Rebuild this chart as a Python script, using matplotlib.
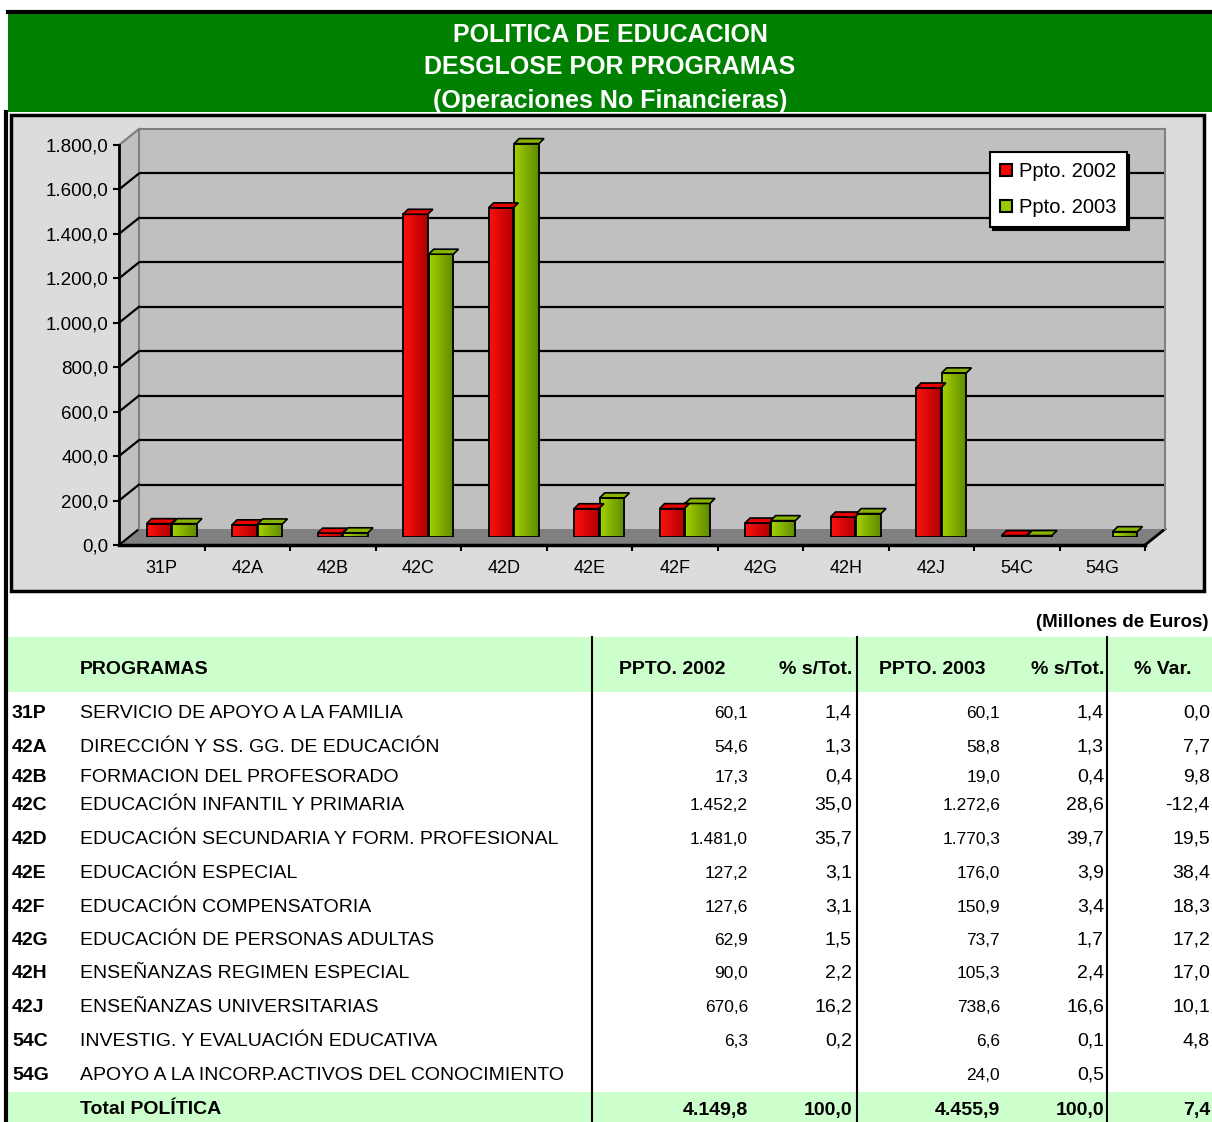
import matplotlib
matplotlib.use('Agg')
import matplotlib.pyplot as plt
from matplotlib.colors import LinearSegmentedColormap
from matplotlib.lines import Line2D
from matplotlib.patches import Polygon, Rectangle
import numpy as np

plt.rcParams['font.family'] = ['Liberation Sans', 'DejaVu Sans']

# data
codes = ['31P', '42A', '42B', '42C', '42D', '42E', '42F', '42G', '42H', '42J', '54C', '54G']
names = [
    'SERVICIO DE APOYO A LA FAMILIA',
    'DIRECCIÓN Y SS. GG. DE EDUCACIÓN',
    'FORMACION DEL PROFESORADO',
    'EDUCACIÓN INFANTIL Y PRIMARIA',
    'EDUCACIÓN SECUNDARIA Y FORM. PROFESIONAL',
    'EDUCACIÓN ESPECIAL',
    'EDUCACIÓN COMPENSATORIA',
    'EDUCACIÓN DE PERSONAS ADULTAS',
    'ENSEÑANZAS REGIMEN ESPECIAL',
    'ENSEÑANZAS UNIVERSITARIAS',
    'INVESTIG. Y EVALUACIÓN EDUCATIVA',
    'APOYO A LA INCORP.ACTIVOS DEL CONOCIMIENTO',
]
ppto_2002 = [60.1, 54.6, 17.3, 1452.2, 1481.0, 127.2, 127.6, 62.9, 90.0, 670.6, 6.3, np.nan]
pct_2002 = [1.4, 1.3, 0.4, 35.0, 35.7, 3.1, 3.1, 1.5, 2.2, 16.2, 0.2, np.nan]
ppto_2003 = [60.1, 58.8, 19.0, 1272.6, 1770.3, 176.0, 150.9, 73.7, 105.3, 738.6, 6.6, 24.0]
pct_2003 = [1.4, 1.3, 0.4, 28.6, 39.7, 3.9, 3.4, 1.7, 2.4, 16.6, 0.1, 0.5]
pct_var = [0.0, 7.7, 9.8, -12.4, 19.5, 38.4, 18.3, 17.2, 17.0, 10.1, 4.8, np.nan]
totals = [4149.8, 100.0, 4455.9, 100.0, 7.4]
series_labels = ['Ppto. 2002', 'Ppto. 2003']
y_ticks = list(range(0, 1801, 200))

W, H = 1212, 1122


def es(v):
    if np.isnan(v):
        return ''
    s = f'{v:,.1f}'
    return s.replace(',', 'X').replace('.', ',').replace('X', '.')


def box(x0, y0, x1, y1):
    # pixel box (top-left origin) -> figure fraction
    return [x0 / W, 1 - y1 / H, (x1 - x0) / W, (y1 - y0) / H]


fig = plt.figure(figsize=(W / 100, H / 100), dpi=100)
bg = fig.add_axes([0, 0, 1, 1], zorder=0)
bg.set_xlim(0, W)
bg.set_ylim(H, 0)
bg.axis('off')

# title banner
bg.add_patch(Rectangle((8, 12), W - 8, 100, facecolor='#008000', edgecolor='none'))
bg.plot([8, W], [12, 12], color='black', lw=3)
for txt, yy in zip(['POLITICA DE EDUCACION', 'DESGLOSE POR PROGRAMAS',
                    '(Operaciones No Financieras)'], [35, 67, 101]):
    bg.text(610, yy, txt, color='white', fontsize=18, fontweight='bold',
            ha='center', va='center')
bg.plot([6, 6], [112, H], color='black', lw=3)

# chart area
bg.add_patch(Rectangle((11, 115), 1193, 476, facecolor='#dcdcdc',
                       edgecolor='black', lw=2.5))
bg.add_patch(Polygon([(119, 545), (1145, 545), (1165, 529), (139, 529)],
                     closed=True, facecolor='#808080', edgecolor='none'))
bg.add_patch(Polygon([(119, 545), (119, 145), (139, 129), (139, 529)],
                     closed=True, facecolor='#c0c0c0', edgecolor='none'))
bg.plot([1145, 1165], [545, 529], color='black', lw=2)
bg.plot([119, 139], [545, 529], color='black', lw=1.5)

# back wall
ax_back = fig.add_axes(box(139, 129, 1165, 529), zorder=1)
ax_back.set_xlim(-0.5, 11.5)
ax_back.set_ylim(0, 1800)
ax_back.set_facecolor('#c0c0c0')
for side in ['top', 'right', 'left']:
    ax_back.spines[side].set_color('#808080')
    ax_back.spines[side].set_linewidth(1.5)
ax_back.spines['bottom'].set_visible(False)
ax_back.set_xticks([])
ax_back.set_yticks([])
for v in y_ticks[1:-1]:
    ax_back.axhline(v, color='black', lw=1.6)

# front axis
ax_front = fig.add_axes(box(119, 145, 1145, 545), zorder=4)
ax_front.set_xlim(-0.5, 11.5)
ax_front.set_ylim(0, 1800)
ax_front.patch.set_alpha(0)
ax_front.spines['top'].set_visible(False)
ax_front.spines['right'].set_visible(False)
ax_front.spines['left'].set_linewidth(2)
ax_front.spines['bottom'].set_linewidth(2.5)
ax_front.set_yticks(y_ticks)
ax_front.set_yticklabels([es(v) for v in y_ticks], fontsize=13.5)
ax_front.tick_params(axis='y', direction='out', length=4.5, width=1.5, pad=3)
x = np.arange(len(codes))
ax_front.set_xticks(x)
ax_front.set_xticklabels(codes, fontsize=13)
ax_front.set_xticks(x + 0.5, minor=True)
ax_front.tick_params(axis='x', which='major', length=0, pad=11)
ax_front.tick_params(axis='x', which='minor', direction='out', length=4.5, width=1.5)

# diagonal tick lines on the left wall
for v in y_ticks[1:]:
    p0 = ax_front.transData.transform((-0.5, v))
    p1 = ax_back.transData.transform((-0.5, v))
    col = '#808080' if v == y_ticks[-1] else 'black'
    fig.add_artist(Line2D([p0[0], p1[0]], [p0[1], p1[1]], transform=None,
                          color=col, lw=1.6, zorder=2))

# bars (middle plane)
ax = fig.add_axes(box(129, 137, 1155, 537), zorder=3)
ax.patch.set_alpha(0)
ax.axis('off')

bw = 0.29
dx_cap = 5 / 85.5
dy_cap = 5 * 1800 / 400
series = [
    (ppto_2002, -0.15, ['#ff1010', '#b00000'], '#e80000'),
    (ppto_2003, 0.15, ['#a4d000', '#5e8a00'], '#88b400'),
]
for vals, off, grad_cols, cap_col in series:
    cmap = LinearSegmentedColormap.from_list('g', grad_cols)
    bars = ax.bar(x + off, vals, width=bw, facecolor='none',
                  edgecolor='black', linewidth=1.3, zorder=4)
    for b, v in zip(bars, vals):
        if np.isnan(v):
            continue
        x0, w = b.get_x(), b.get_width()
        im = ax.imshow(np.linspace(0, 1, 64)[None, :], extent=(x0, x0 + w, 0, v),
                       aspect='auto', cmap=cmap, zorder=3)
        im.set_clip_path(b)
        ax.add_patch(Polygon([(x0, v), (x0 + w, v), (x0 + w + dx_cap, v + dy_cap),
                              (x0 + dx_cap, v + dy_cap)], closed=True,
                             facecolor=cap_col, edgecolor='black', lw=1.2,
                             zorder=5, clip_on=False))
ax.set_xlim(-0.5, 11.5)
ax.set_ylim(0, 1800)

handles = [
    Line2D([], [], linestyle='none', marker='s', markersize=8,
           markerfacecolor=c, markeredgecolor='black', markeredgewidth=1.5)
    for c in ['#ff0000', '#99cc00']
]
leg = ax.legend(handles, series_labels, loc='upper left',
                bbox_to_anchor=(990 / W, 1 - 152 / H), bbox_transform=fig.transFigure,
                borderaxespad=0, fontsize=14.5, frameon=True, fancybox=False,
                shadow={'color': 'black', 'alpha': 1}, handlelength=0.6,
                handletextpad=0.35, labelspacing=0.85, borderpad=0.5)
leg.get_frame().set_edgecolor('black')
leg.get_frame().set_linewidth(1.5)
leg.set_zorder(10)

# table
bg.text(1208, 622, '(Millones de Euros)', fontsize=13.5, fontweight='bold',
        ha='right', va='center')
bg.add_patch(Rectangle((8, 637), W - 8, 55, facecolor='#ccffcc', edgecolor='none'))
bg.add_patch(Rectangle((8, 1092), W - 8, 30, facecolor='#ccffcc', edgecolor='none'))
for xv in [592, 857, 1107]:
    bg.plot([xv, xv], [637, H], color='black', lw=1.5)

hdr = dict(fontsize=14, fontweight='bold', va='center')
bg.text(80, 669, 'PROGRAMAS', ha='left', **hdr)
bg.text(672, 669, 'PPTO. 2002', ha='center', **hdr)
bg.text(852, 669, '% s/Tot.', ha='right', **hdr)
bg.text(932, 669, 'PPTO. 2003', ha='center', **hdr)
bg.text(1104, 669, '% s/Tot.', ha='right', **hdr)
bg.text(1163, 669, '% Var.', ha='center', **hdr)

row_y = [713, 747, 777, 805, 839, 873, 907, 940, 973, 1007, 1041, 1075]
for i, yy in enumerate(row_y):
    bg.text(12, yy, codes[i], fontsize=14, fontweight='bold', ha='left', va='center')
    bg.text(80, yy, names[i], fontsize=14, ha='left', va='center')
    bg.text(748, yy, es(ppto_2002[i]), fontsize=12.5, ha='right', va='center')
    bg.text(852, yy, es(pct_2002[i]), fontsize=14, ha='right', va='center')
    bg.text(1000, yy, es(ppto_2003[i]), fontsize=12.5, ha='right', va='center')
    bg.text(1104, yy, es(pct_2003[i]), fontsize=14, ha='right', va='center')
    bg.text(1210, yy, es(pct_var[i]), fontsize=14, ha='right', va='center')

ty = 1110
bg.text(80, ty, 'Total POLÍTICA', fontsize=14, fontweight='bold', ha='left', va='center')
for xr, v in zip([748, 852, 1000, 1104, 1210], totals):
    bg.text(xr, ty, es(v), fontsize=14, fontweight='bold', ha='right', va='center')

fig.savefig('out.png', dpi=100)
